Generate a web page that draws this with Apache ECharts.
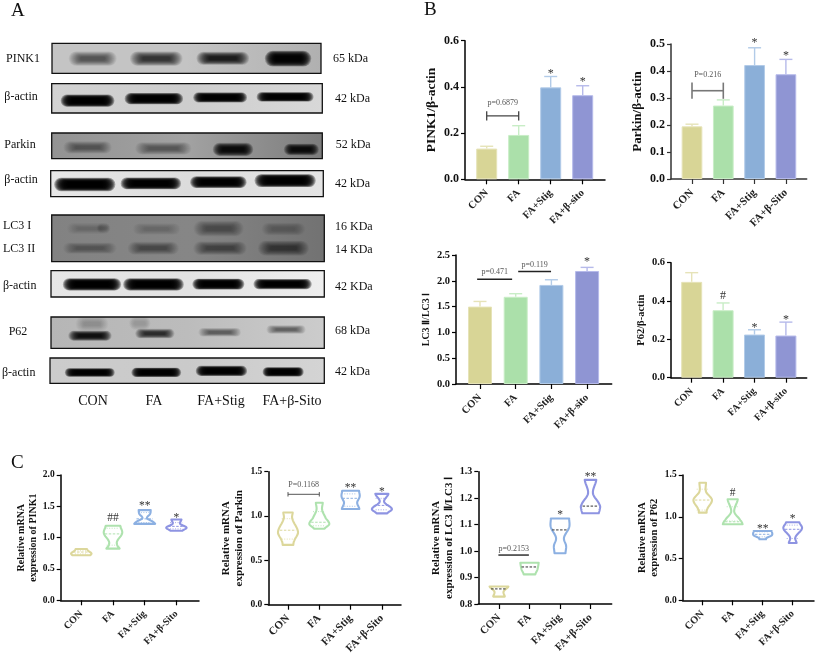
<!DOCTYPE html>
<html><head><meta charset="utf-8">
<style>html,body{margin:0;padding:0;background:#fff}#c{width:817px;height:653px}</style>
<script src="https://cdn.jsdelivr.net/npm/echarts@6/dist/echarts.min.js"></script>
</head><body><div id="c"></div>
<script>
// ---------- DATA ----------
const categories = ['CON','FA','FA+Stig','FA+β-Sito'];
const categoriesLower = ['CON','FA','FA+Stig','FA+β-sito'];
const yTicksFmt = 1;

// Panel B: means and upper whisker ends
const pink1Mean = [0.133,0.192,0.398,0.364];
const pink1Upper = [0.143,0.232,0.445,0.405];
const parkinMean = [0.195,0.272,0.422,0.388];
const parkinUpper = [0.203,0.293,0.486,0.443];
const lc3Mean = [1.50,1.69,1.92,2.19];
const lc3Upper = [1.60,1.75,2.02,2.26];
const p62Mean = [0.50,0.352,0.225,0.22];
const p62Upper = [0.548,0.39,0.25,0.29];

// Panel C: violin outlines as [value, half width in lanes], top to bottom; then median and quartiles
const pink1Violin = [
 {o:[[.82,.18],[.79,.22],[.75,.32],[.72,.29]],m:.77,q:[.79,.74]},
 {o:[[1.19,.23],[1.07,.29],[.94,.13],[.87,.14],[.825,.21]],m:1.06,q:[1.15,.88]},
 {o:[[1.44,.19],[1.38,.17],[1.31,.07],[1.26,.24],[1.22,.33]],m:1.3,q:[1.4,1.24]},
 {o:[[1.29,.16],[1.22,.12],[1.16,.32],[1.11,.19]],m:1.18,q:[1.24,1.14]}];
const parkinViolin = [
 {o:[[1.04,.15],[.97,.14],[.82,.32],[.72,.2],[.675,.17]],m:.84,q:[.97,.74]},
 {o:[[1.15,.11],[1.07,.09],[.98,.2],[.91,.32],[.857,.17]],m:.93,q:[1.05,.89]},
 {o:[[1.285,.27],[1.22,.29],[1.15,.21],[1.08,.28]],m:1.2,q:[1.25,1.11]},
 {o:[[1.25,.21],[1.16,.07],[1.08,.32],[1.03,.17]],m:1.12,q:[1.2,1.07]}];
const lc3Violin = [
 {o:[[.866,.31],[.847,.15],[.828,.19]],m:.857,q:[]},
 {o:[[.956,.3],[.93,.26],[.912,.19]],m:.94,q:[]},
 {o:[[1.123,.3],[1.09,.3],[1.05,.13],[1.02,.2],[.992,.18]],m:1.08,q:[]},
 {o:[[1.269,.19],[1.218,.08],[1.174,.3],[1.155,.3],[1.143,.27]],m:1.17,q:[]}];
const p62Violin = [
 {o:[[1.408,.11],[1.3,.11],[1.2,.31],[1.09,.15],[1.05,.13]],m:1.2,q:[1.33,1.08]},
 {o:[[1.21,.17],[1.06,.05],[.96,.25],[.91,.33]],m:.94,q:[1.12,.95]},
 {o:[[.83,.3],[.78,.31],[.745,.13],[.73,.11]],m:.79,q:[.82,.76]},
 {o:[[.935,.22],[.86,.31],[.755,.09],[.686,.13]],m:.85,q:[.9,.74]}];

// Significance marks: [lane, value, text]
const marksPink1 = [[2,.466,'*'],[3,.432,'*']];
const marksParkin = [[2,.512,'*'],[3,.466,'*']];
const marksLc3 = [[3,2.41,'*']];
const marksP62 = [[1,.428,'#'],[2,.271,'*'],[3,.315,'*']];
const marksPink1M = [[1,1.31,'##'],[2,1.55,'**'],[3,1.36,'*']];
const marksParkinM = [[2,1.35,'**'],[3,1.295,'*']];
const marksLc3M = [[2,1.145,'*'],[3,1.288,'**']];
const marksP62M = [[1,1.29,'#'],[2,.88,'**'],[3,1.0,'*']];

// Comparison bars: [from lane, to lane, value, cap height, label, label value]
const barsPink1 = [[0,1,.275,.02,'p=0.6879',.33]];
const barsParkin = [[0,1,.327,.03,'P=0.216',.384]];
const barsLc3 = [[-.08,.9,2.03,0,'p=0.471',2.17],[1.07,1.99,2.18,0,'p=0.119',2.31]];
const barsParkinM = [[0,1,1.245,.025,'P=0.1168',1.35]];
const barsLc3M = [[-.02,.98,.985,0,'p=0.2153',1.009]];

// Western blots: lanes [x in lanes, y in 0..1, darkness, width in lanes, height in 0..1]
const pink1Bands = [[.605,.51,.55,.62,.3],[1.55,.51,.72,.68,.3],[2.54,.50,.84,.68,.27],[3.51,.51,.98,.6,.33]];
const actinBands1 = [[.53,.58,1,.69,.26],[1.51,.51,1,.75,.24],[2.49,.47,1,.69,.21],[3.45,.45,1,.73,.2]];
const parkinBands = [[.53,.56,.42,.62,.3],[1.65,.60,.42,.72,.3],[2.68,.64,.92,.52,.32],[3.69,.64,.9,.45,.28]];
const actinBands2 = [[.5,.53,1,.78,.32],[1.47,.49,1,.77,.28],[2.46,.44,1,.72,.28],[3.44,.38,1,.78,.31]];
const lc3Bands = [[.54,.29,.13,.55,.15],[.76,.28,.16,.18,.14],[1.54,.30,.2,.6,.15],[2.45,.29,.38,.64,.21],[3.4,.3,.24,.56,.17],
                  [.56,.71,.34,.68,.15],[1.49,.71,.42,.65,.17],[2.47,.71,.46,.68,.18],[3.4,.71,.54,.65,.2]];
const actinBands3 = [[.6,.52,1,.74,.29],[1.5,.52,1,.77,.29],[2.45,.51,1,.66,.26],[3.39,.51,1,.74,.24]];
const p62Bands = [[.6,.22,.18,.42,.32],[.57,.6,.9,.55,.2],[1.3,.2,.16,.28,.28],[1.52,.53,.75,.5,.19],[2.47,.49,.5,.54,.17],[3.44,.4,.5,.5,.17]];
const actinBands4 = [[.58,.57,1,.63,.21],[1.55,.57,1,.63,.23],[2.5,.51,1,.65,.25],[3.4,.55,1,.52,.23]];

const leftLabels = ['PINK1','β-actin','Parkin','β-actin','LC3 I','LC3 II','β-actin','P62','β-actin'];
const sizeLabels = ['65 kDa','42 kDa','52 kDa','42 kDa','16 KDa','14 KDa','42 KDa','68 kDa','42 kDa'];
const panelLetters = ['A','B','C'];

// ---------- LAYOUT AND STYLE ----------
const serif = '"Liberation Serif","Times New Roman",serif';
const fills = ['#d8d596','#abe0aa','#8bafd8','#8f95d3'];
const edges = ['#e6e3b8','#c8edc6','#b2cbe8','#b6baea'];
const lines = ['#dcd79b','#aee2ae','#8cb0e2','#8e94e2'];

const blots = [
 {r:[52,43.3,269,30],bg:['#c4c4c4','#c4c4c4','#b0b0b0'],b:pink1Bands},
 {r:[51.7,83.7,270.6,29.3],bg:['#d2d2d2','#cdcdcd','#d8d8d8'],b:actinBands1},
 {r:[51.7,133,270.6,25.7],bg:['#939393','#a2a2a2','#7c7c7c'],b:parkinBands},
 {r:[50.7,170.7,272.6,26],bg:['#e8e8e8','#dcdcdc','#e4e4e4'],b:actinBands2},
 {r:[51.7,215,272.6,46.7],bg:['#828282','#868686','#727272'],b:lc3Bands},
 {r:[51,270.7,273.3,26.3],bg:['#e6e6e6','#e2e2e2','#eeeeee'],b:actinBands3},
 {r:[51,317,273.3,31.3],bg:['#b6b6b6','#bcbcbc','#cccccc'],b:p62Bands},
 {r:[50,358,274.3,25.3],bg:['#cccccc','#cacaca','#d4d4d4'],b:actinBands4}
];
const charts = [
 {k:'bar',l:465,t:40.7,r:605,b:179.3,c0:486.7,w:32,bw:21,min:0,max:.6,iv:.2,fs:12,lf:10.5,nm:'PINK1/β-actin',ng:24,lh:17,nf:13.5,cats:categoriesLower,mean:pink1Mean,up:pink1Upper,marks:marksPink1,brk:barsPink1,bc:'#444',bl:1.3},
 {k:'bar',l:671,t:44,r:806.7,b:179,c0:692,w:31.3,bw:20.7,min:0,max:.5,iv:.1,fs:12,lf:11,nm:'Parkin/β-actin',ng:23,lh:16,nf:13,cats:categories,mean:parkinMean,up:parkinUpper,marks:marksParkin,brk:barsParkin,bc:'#777',bl:1.6,axc:'#333'},
 {k:'bar',l:456,t:255,r:611.7,b:384,c0:480,w:35.7,bw:24,min:0,max:2.5,iv:.5,fs:10.5,lf:10.5,nm:'LC3 Ⅱ/LC3 Ⅰ',ng:22,lh:14,nf:10,cats:categoriesLower,mean:lc3Mean,up:lc3Upper,marks:marksLc3,brk:barsLc3,bc:'#222',bl:1.6},
 {k:'bar',l:671,t:262.7,r:806.7,b:377.7,c0:691.7,w:31.4,bw:21,min:0,max:.6,iv:.2,fs:10.5,lf:10,nm:'P62/β-actin',ng:22,lh:14,nf:10.5,cats:categoriesLower,mean:p62Mean,up:p62Upper,marks:marksP62,brk:[],bc:'#222',bl:1.5},
 {k:'vio',l:60.7,t:475,r:199,b:600.3,c0:81.3,w:31.7,min:0,max:2,iv:.5,fs:9.5,lf:10,nm:'Relative mRNA\nexpression of PINK1',ng:20,lh:11.5,nf:10,cats:categories,v:pink1Violin,marks:marksPink1M,brk:[],bc:'#444',bl:1,dc:null},
 {k:'vio',l:268.3,t:471.7,r:401,b:604.7,c0:288,w:31.3,min:0,max:1.5,iv:.5,fs:9.5,lf:11,nm:'Relative mRNA\nexpression of Parkin',ng:23,lh:13,nf:11,cats:categories,v:parkinViolin,marks:marksParkinM,brk:barsParkinM,bc:'#555',bl:1,dc:null},
 {k:'vio',l:478.3,t:471.7,r:611.7,b:604,c0:499,w:30.5,min:.8,max:1.3,iv:.1,fs:10,lf:10.8,nm:'Relative mRNA\nexpression of LC3 Ⅱ/LC3 Ⅰ',ng:23,lh:13,nf:11,cats:categories,v:lc3Violin,marks:marksLc3M,brk:barsLc3M,bc:'#222',bl:1.4,dc:'#333'},
 {k:'vio',l:682.7,t:475,r:814,b:600.3,c0:702.7,w:30,min:0,max:1.5,iv:.5,fs:9.5,lf:10.3,nm:'Relative mRNA\nexpression of P62',ng:18.5,lh:12.5,nf:10.5,cats:categories,v:p62Violin,marks:marksP62M,brk:[],bc:'#444',bl:1,dc:null}
];
const leftPos = [[23,58.7,'center'],[21,97,'center'],[20,145,'center'],[21,180,'center'],[3,226,'left'],[3,249,'left'],[3,286,'left'],[18,332,'center'],[2,372.7,'left']];
const sizePos = [[333,58.7],[335,98.7],[335.7,144.7],[335,183.7],[335,226.7],[335,250],[335,286.7],[335,331],[335,372]];
const lanePos = [93,154,221,292];
const letterPos = [[11,11],[424,10],[11,463]];

// ---------- BUILD ----------
const grid=[],xAxis=[],yAxis=[],series=[],graphic=[];
const addText=(text,x,y,size,align)=>graphic.push({type:'text',x,y,silent:true,style:{text,fontFamily:serif,fontSize:size,fill:'#111',align,verticalAlign:'middle'}});

// smooth outline side through its estimated points (drawing only)
function curve(pts){
  const out=[];
  for(let i=0;i<pts.length-1;i++){
    const p0=pts[Math.max(i-1,0)],p1=pts[i],p2=pts[i+1],p3=pts[Math.min(i+2,pts.length-1)];
    for(let s=0;s<8;s++){
      const t=s/8,t2=t*t,t3=t2*t;
      out.push([.5*(2*p1[0]+(p2[0]-p0[0])*t+(2*p0[0]-5*p1[0]+4*p2[0]-p3[0])*t2+(3*p1[0]-p0[0]-3*p2[0]+p3[0])*t3),
                p1[1]+(p2[1]-p1[1])*t]);
    }
  }
  out.push(pts[pts.length-1]);
  return out;
}

blots.forEach((B,i)=>{
  grid.push({show:true,left:B.r[0],top:B.r[1],width:B.r[2],height:B.r[3],outerBoundsMode:'none',borderColor:'#111',borderWidth:1.3,z:1,
    backgroundColor:{type:'linear',x:0,y:0,x2:1,y2:0,colorStops:[{offset:0,color:B.bg[0]},{offset:.5,color:B.bg[1]},{offset:1,color:B.bg[2]}]}});
  xAxis.push({gridIndex:i,type:'value',min:0,max:4,show:false});
  yAxis.push({gridIndex:i,type:'value',min:0,max:1,inverse:true,show:false});
  series.push({type:'custom',xAxisIndex:i,yAxisIndex:i,silent:true,z:3,clip:true,data:B.b,
    renderItem(p,api){
      const c=api.coord([api.value(0),api.value(1)]);
      const s=api.size([api.value(3),api.value(4)]);
      const N=14,a=1-Math.pow(1-Math.min(api.value(2),.995),1/N),ch=[];
      for(let k=0;k<N;k++){
        const u=k/(N-1);
        const w=s[0]*(1.15-.55*u),h=s[1]*(1.6-1.2*u);
        ch.push({type:'rect',shape:{x:c[0]-w/2,y:c[1]-h/2,width:w,height:h,r:h/2},style:{fill:'rgba(0,0,0,'+a+')'}});
      }
      return {type:'group',children:ch};
    }});
});

charts.forEach((C,j)=>{
  const i=j+blots.length, xMin=(C.l-C.c0)/C.w, xMax=(C.r-C.c0)/C.w, ax=C.axc||'#000';
  grid.push({left:C.l,top:C.t,width:C.r-C.l,height:C.b-C.t,outerBoundsMode:'none',z:2});
  xAxis.push({gridIndex:i,type:'value',min:xMin,max:xMax,splitLine:{show:false},
    axisLine:{onZero:false,lineStyle:{color:ax,width:1.5}},
    axisTick:{customValues:[0,1,2,3],length:5,lineStyle:{color:ax,width:1.2}},
    axisLabel:{customValues:[0,1,2,3],rotate:45,margin:12,interval:0,hideOverlap:false,fontFamily:serif,fontWeight:'bold',fontSize:C.lf,color:'#222',formatter:v=>C.cats[Math.round(v)]}});
  yAxis.push({gridIndex:i,type:'value',min:C.min,max:C.max,interval:C.iv,splitLine:{show:false},
    name:C.nm,nameLocation:'middle',nameGap:C.ng,nameRotate:90,
    nameTextStyle:{fontFamily:serif,fontWeight:'bold',fontSize:C.nf,color:'#111',lineHeight:C.lh},
    axisLine:{show:true,onZero:false,lineStyle:{color:ax,width:1.5}},
    axisTick:{show:true,length:4,lineStyle:{color:ax,width:1.2}},
    axisLabel:{margin:6,fontFamily:serif,fontWeight:'bold',fontSize:C.fs,color:'#111',formatter:v=>v.toFixed(yTicksFmt)}});
  if(C.k==='bar'){
    series.push({type:'bar',xAxisIndex:i,yAxisIndex:i,barWidth:C.bw,silent:true,z:3,
      data:C.mean.map((v,n)=>({value:[n,v],itemStyle:{color:fills[n],borderColor:edges[n],borderWidth:1}}))});
    series.push({type:'custom',xAxisIndex:i,yAxisIndex:i,silent:true,z:2,
      data:C.up.map((v,n)=>[n,C.mean[n],v]),
      renderItem(p,api){
        const a=api.coord([api.value(0),api.value(1)]),b=api.coord([api.value(0),api.value(2)]);
        const style={stroke:edges[p.dataIndex],lineWidth:1.4,fill:'none'};
        return {type:'group',children:[
          {type:'line',shape:{x1:a[0],y1:a[1],x2:b[0],y2:b[1]},style},
          {type:'line',shape:{x1:b[0]-6.5,y1:b[1],x2:b[0]+6.5,y2:b[1]},style}]};
      }});
  } else {
    series.push({type:'custom',xAxisIndex:i,yAxisIndex:i,silent:true,z:3,
      data:C.v.map((d,n)=>[n,d.m]),
      renderItem(p,api){
        const d=C.v[p.dataIndex],n=api.value(0),col=lines[n];
        const L=curve(d.o.map(q=>api.coord([n-q[1],q[0]]))),R=curve(d.o.map(q=>api.coord([n+q[1],q[0]]))).reverse();
        const ch=[{type:'polygon',shape:{points:L.concat(R)},style:{fill:'rgba(255,255,255,0)',stroke:col,lineWidth:2.1,lineJoin:'round'}}];
        const a=api.coord([n-.26,d.m]),b=api.coord([n+.26,d.m]);
        ch.push({type:'line',shape:{x1:a[0],y1:a[1],x2:b[0],y2:b[1]},style:{stroke:C.dc||col,lineWidth:1,lineDash:[2.5,1.5]}});
        d.q.forEach(v=>{const u=api.coord([n-.2,v]),w=api.coord([n+.2,v]);
          ch.push({type:'line',shape:{x1:u[0],y1:u[1],x2:w[0],y2:w[1]},style:{stroke:col,lineWidth:.8,lineDash:[1,1.5]}});});
        return {type:'group',children:ch};
      }});
  }
  series.push({type:'custom',xAxisIndex:i,yAxisIndex:i,silent:true,z:4,data:C.marks.map(m=>[m[0],m[1]]),
    renderItem(p,api){
      const c=api.coord([api.value(0),api.value(1)]),t=C.marks[p.dataIndex][2];
      return {type:'text',x:c[0],y:c[1]+(t[0]==='*'?2.5:0),style:{text:t,fontFamily:serif,fontSize:C.k==='bar'?12:11.5,fill:'#333',align:'center',verticalAlign:'middle'}};
    }});
  if(C.brk.length) series.push({type:'custom',xAxisIndex:i,yAxisIndex:i,silent:true,z:4,data:C.brk.map(b=>[b[0],b[2]]),
    renderItem(p,api){
      const b=C.brk[p.dataIndex],A=api.coord([b[0],b[2]]),E=api.coord([b[1],b[2]]);
      const st={stroke:C.bc,lineWidth:C.bl,fill:'none'},ch=[{type:'line',shape:{x1:A[0],y1:A[1],x2:E[0],y2:E[1]},style:st}];
      if(b[3]){[b[0],b[1]].forEach(x=>{const u=api.coord([x,b[2]+b[3]]),w=api.coord([x,b[2]-b[3]]);
        ch.push({type:'line',shape:{x1:u[0],y1:u[1],x2:w[0],y2:w[1]},style:st});});}
      const t=api.coord([(b[0]+b[1])/2,b[5]]);
      ch.push({type:'text',x:t[0],y:t[1],style:{text:b[4],fontFamily:serif,fontSize:8,fill:'#555',align:'center',verticalAlign:'middle'}});
      return {type:'group',children:ch};
    }});
});

leftLabels.forEach((t,n)=>addText(t,leftPos[n][0],leftPos[n][1],12,leftPos[n][2]));
sizeLabels.forEach((t,n)=>addText(t,sizePos[n][0],sizePos[n][1],12,'left'));
categories.forEach((t,n)=>addText(t,lanePos[n],401.7,14,'center'));
panelLetters.forEach((t,n)=>addText(t,letterPos[n][0],letterPos[n][1],19,'left'));

const chart=echarts.init(document.getElementById('c'),null,{width:817,height:653});
chart.setOption({animation:false,backgroundColor:'#fff',grid,xAxis,yAxis,series,graphic});
</script>
</body></html>
